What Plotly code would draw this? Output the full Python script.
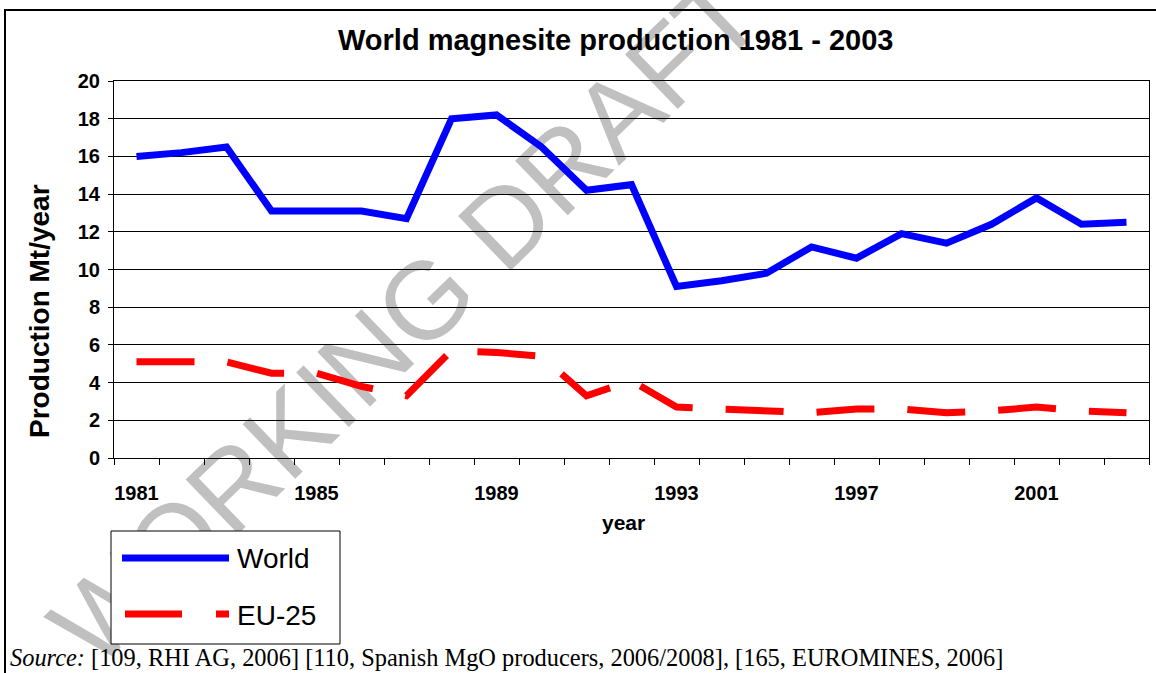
import plotly.graph_objects as go

# Production data, million tonnes per year
years = list(range(1981, 2004))
world = [16.0, 16.2, 16.5, 13.1, 13.1, 13.1, 12.7, 18.0, 18.2, 16.5, 14.2, 14.5,
         9.1, 9.4, 9.8, 11.2, 10.6, 11.9, 11.4, 12.4, 13.8, 12.4, 12.5]
eu25 = [5.1, 5.1, 5.1, 4.5, 4.5, 3.8, 3.3, 5.7, 5.6, 5.4, 3.3, 4.1,
        2.7, 2.6, 2.5, 2.4, 2.6, 2.6, 2.4, 2.5, 2.7, 2.5, 2.4]
x_tick_years = [1981, 1985, 1989, 1993, 1997, 2001]
y_ticks = list(range(0, 21, 2))

# Page geometry (pixels)
W, H = 1156, 673
ML, MR, MT, MB = 114, 7, 81, 215
PW = W - ML - MR
PH = H - MT - MB


def fx(px):
    """Pixel x -> paper fraction."""
    return (px - ML) / PW


def fy(py):
    """Pixel y (from top) -> paper fraction."""
    return (H - MB - py) / PH


ARIAL = "Arial, Liberation Sans, sans-serif"
TIMES = "Times New Roman, Liberation Serif, serif"

fig = go.Figure()
fig.add_trace(go.Scatter(x=years, y=world, mode="lines", name="World",
                         line=dict(color="#0000ff", width=7)))
fig.add_trace(go.Scatter(x=years, y=eu25, mode="lines", name="EU-25",
                         line=dict(color="#ff0000", width=7, dash="58px,33px")))

fig.update_xaxes(
    range=[1980.5, 2003.5], tickvals=x_tick_years, ticks="",
    showgrid=False, zeroline=False, showline=True, linecolor="black",
    linewidth=1, mirror=True, ticklabelstandoff=17,
    tickfont=dict(family=ARIAL, size=20, color="black", weight="bold"),
    minor=dict(ticks="outside", ticklen=6, tickcolor="black", tickwidth=1,
               tick0=1980.5, dtick=1, showgrid=False),
)
fig.update_yaxes(
    range=[0, 20], tickvals=y_ticks, ticks="outside", ticklen=5,
    tickcolor="black", showgrid=True, gridcolor="black", gridwidth=1,
    zeroline=False, showline=True, linecolor="black", linewidth=1,
    mirror=True, ticklabelstandoff=4,
    tickfont=dict(family=ARIAL, size=20, color="black", weight="bold"),
)

# Diagonal watermark direction
cx, cy = 398, 312
dx, dy = 0.719, -0.695
span = 300

shapes = [
    # watermark text laid along an invisible diagonal line
    dict(type="line", xref="paper", yref="paper", layer="below",
         x0=fx(cx - dx * span), y0=fy(cy - dy * span),
         x1=fx(cx + dx * span), y1=fy(cy + dy * span),
         line=dict(color="rgba(0,0,0,0)", width=1),
         label=dict(text="WORKING DRAFT", textposition="middle",
                    xanchor="center", yanchor="middle", padding=0,
                    font=dict(family=ARIAL, size=110, color="#c0c0c0"))),
    # chart frame
    dict(type="rect", xref="paper", yref="paper", layer="above",
         x0=fx(5), y0=fy(10), x1=fx(1241), y1=fy(700),
         line=dict(color="black", width=2)),
    # legend box
    dict(type="rect", xref="paper", yref="paper", layer="above",
         x0=fx(111), y0=fy(531), x1=fx(340), y1=fy(644),
         fillcolor="white", line=dict(color="black", width=1)),
    dict(type="line", xref="paper", yref="paper", layer="above",
         x0=fx(122), y0=fy(558), x1=fx(229), y1=fy(558),
         line=dict(color="#0000ff", width=7)),
    dict(type="line", xref="paper", yref="paper", layer="above",
         x0=fx(125), y0=fy(614), x1=fx(229), y1=fy(614),
         line=dict(color="#ff0000", width=7, dash="57px,34px")),
]

annotations = [
    dict(text="<b>World magnesite production 1981 - 2003</b>",
         x=fx(615), y=fy(40), xanchor="center", yanchor="middle",
         font=dict(family=ARIAL, size=29, color="black")),
    dict(text="<b>Production Mt/year</b>", textangle=-90,
         x=fx(39), y=fy(311), xanchor="center", yanchor="middle",
         font=dict(family=ARIAL, size=28, color="black")),
    dict(text="<b>year</b>", x=fx(623), y=fy(522),
         xanchor="center", yanchor="middle",
         font=dict(family=ARIAL, size=21, color="black")),
    dict(text="World", x=fx(235), y=fy(558), xanchor="left", yanchor="middle",
         font=dict(family=ARIAL, size=28, color="black")),
    dict(text="EU-25", x=fx(235), y=fy(615), xanchor="left", yanchor="middle",
         font=dict(family=ARIAL, size=28, color="black")),
    dict(text="<i>Source:</i> [109, RHI AG, 2006] [110, Spanish MgO producers, "
              "2006/2008], [165, EUROMINES, 2006]",
         x=fx(8), y=fy(657), xanchor="left", yanchor="middle",
         font=dict(family=TIMES, size=24.4, color="black")),
]
for a in annotations:
    a.update(xref="paper", yref="paper", showarrow=False)

fig.update_layout(
    width=W, height=H, autosize=False,
    margin=dict(l=ML, r=MR, t=MT, b=MB),
    paper_bgcolor="white", plot_bgcolor="white",
    showlegend=False, shapes=shapes, annotations=annotations,
)

fig.write_html("out.html")
